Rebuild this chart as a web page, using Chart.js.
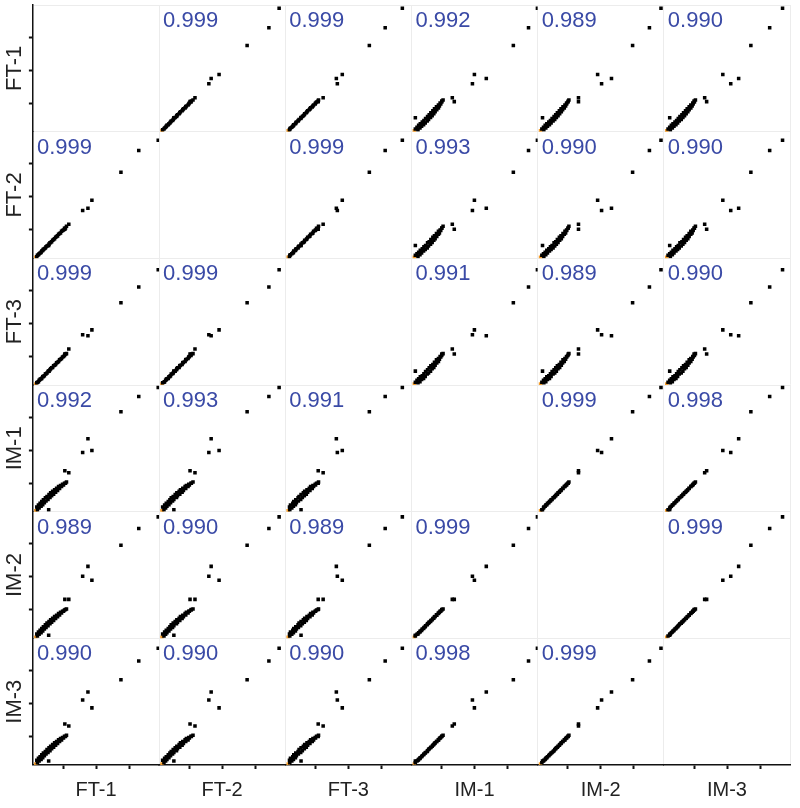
<!DOCTYPE html>
<html>
<head>
<meta charset="utf-8">
<script src="https://cdn.jsdelivr.net/npm/chart.js@4.4.1/dist/chart.umd.min.js"></script>
<style>
  html, body { margin: 0; padding: 0; background: #fff; }
  #wrap { width: 800px; height: 808px; }
</style>
</head>
<body>
<div id="wrap"><canvas id="matrix" width="800" height="808"></canvas></div>
<script>
const samples = ["FT-1", "FT-2", "FT-3", "IM-1", "IM-2", "IM-3"];

// expression per sample, same gene order in every array (dense low cluster, then the high genes)
const ft1 = [0.17,0.2,0.22,0.25,0.27,0.3,0.33,0.35,0.38,0.4,0.43,0.46,0.48,0.51,0.54,0.57,0.6,0.62,0.65,0.68,0.71,0.74,0.77,0.8,0.83,0.86,0.89,0.92,0.95,0.98,1.01,1.04,1.07,1.1,
  3.88,3.29,2.75,1.87,1.75,1.59,1.17,1.05,0.56];
const ft2 = [0.17,0.19,0.23,0.25,0.28,0.3,0.32,0.36,0.38,0.41,0.43,0.45,0.49,0.51,0.53,0.57,0.61,0.62,0.64,0.69,0.71,0.73,0.78,0.8,0.82,0.87,0.89,0.91,0.96,0.98,1.0,1.05,1.06,1.11,
  3.72,3.41,2.75,1.9,1.66,1.59,1.17,1.02,0.53];
const ft3 = [0.17,0.21,0.22,0.24,0.28,0.31,0.33,0.34,0.39,0.4,0.42,0.47,0.48,0.5,0.55,0.56,0.6,0.63,0.66,0.67,0.72,0.74,0.76,0.81,0.83,0.85,0.9,0.92,0.94,0.99,1.0,1.03,1.08,1.09,
  3.63,3.11,2.63,1.81,1.63,1.66,1.23,1.08,0.56];
const im1 = [0.17,0.28,0.2,0.34,0.25,0.39,0.3,0.45,0.35,0.5,0.41,0.56,0.46,0.6,0.51,0.66,0.57,0.71,0.62,0.76,0.67,0.8,0.73,0.85,0.78,0.9,0.84,0.93,0.9,0.97,0.95,1.0,1.0,1.04,
  3.9,3.63,3.17,1.99,2.35,1.93,1.32,1.38,0.2];
const im2 = [0.17,0.27,0.21,0.33,0.26,0.38,0.31,0.44,0.36,0.49,0.42,0.55,0.47,0.6,0.52,0.65,0.58,0.7,0.63,0.75,0.68,0.8,0.74,0.84,0.79,0.89,0.85,0.93,0.91,0.96,0.96,1.0,1.01,1.03,
  3.82,3.47,2.96,1.9,2.32,2.02,1.32,1.32,0.23];
const im3 = [0.17,0.28,0.21,0.34,0.26,0.39,0.31,0.45,0.36,0.5,0.42,0.55,0.47,0.61,0.52,0.66,0.57,0.71,0.63,0.76,0.68,0.81,0.74,0.85,0.79,0.9,0.85,0.94,0.9,0.97,0.96,1.01,1.0,1.04,
  3.68,3.29,2.72,1.87,2.35,2.11,1.32,1.38,0.26];
const expr = [ft1, ft2, ft3, im1, im2, im3];

// genes with no signal, drawn orange
const zeroGenes = [0];

// pearson r, row = y sample, col = x sample
const corrFT1 = [null, 0.999, 0.999, 0.992, 0.989, 0.990];
const corrFT2 = [0.999, null, 0.999, 0.993, 0.990, 0.990];
const corrFT3 = [0.999, 0.999, null, 0.991, 0.989, 0.990];
const corrIM1 = [0.992, 0.993, 0.991, null, 0.999, 0.998];
const corrIM2 = [0.989, 0.990, 0.989, 0.999, null, 0.999];
const corrIM3 = [0.990, 0.990, 0.990, 0.998, 0.999, null];
const corr = [corrFT1, corrFT2, corrFT3, corrIM1, corrIM2, corrIM3];

const tickValues = [1, 2, 3];
const xRange = [0.082, 3.906];
const yRange = [0.139, 3.978];

const FONT = "'Liberation Sans', Arial, sans-serif";
const AXIS = "#111";
const FRAME = "#ececec";
const isEdge = (c, max) => c.tick && c.tick.value === max;

function axis(pos, stack, range, label) {
  const bottom = pos === "bottom";
  return {
    type: "linear",
    position: pos,
    stack: stack,
    stackWeight: 1,
    min: range[0],
    max: range[1],
    afterBuildTicks: s => { s.ticks = tickValues.concat([range[1]]).map(v => ({ value: v })); },
    ticks: { display: false },
    grid: {
      drawOnChartArea: true,
      color: c => isEdge(c, range[1]) ? FRAME : "rgba(0,0,0,0)",
      tickColor: c => isEdge(c, range[1]) ? "rgba(0,0,0,0)" : AXIS,
      tickLength: 4,
      tickWidth: 2,
      lineWidth: 1
    },
    border: { display: true, color: AXIS, width: 1.5 },
    title: {
      display: true,
      text: label,
      color: "#222",
      font: { family: FONT, size: bottom ? 20 : 22 },
      padding: bottom ? { top: 9, bottom: 6 } : { top: 2, bottom: 0.5 }
    }
  };
}

const scales = {};
samples.forEach((s, j) => { scales["x" + j] = axis("bottom", "cols", xRange, s); });
// left boxes are stacked in reverse order, so the last one lands on top
for (let i = samples.length - 1; i >= 0; i--) {
  scales["y" + i] = axis("left", "rows", yRange, samples[i]);
}

const datasets = [];
for (let i = 0; i < samples.length; i++) {
  for (let j = 0; j < samples.length; j++) {
    if (i === j) continue;
    datasets.push({
      label: samples[j] + " vs " + samples[i],
      xAxisID: "x" + j,
      yAxisID: "y" + i,
      data: expr[j].map((v, k) => ({ x: v, y: expr[i][k] })),
      pointStyle: "rect",
      pointRadius: 2.5,
      pointBorderWidth: 0,
      pointBackgroundColor: c => zeroGenes.includes(c.dataIndex) ? "#f39c2a" : "#000"
    });
  }
}

const corrLabels = {
  id: "corrLabels",
  afterDatasetsDraw(chart) {
    const ctx = chart.ctx;
    ctx.save();
    ctx.fillStyle = "#3a4aa6";
    ctx.font = "22px " + FONT;
    ctx.textBaseline = "alphabetic";
    corr.forEach((row, i) => row.forEach((r, j) => {
      if (r === null) return;
      const xs = chart.scales["x" + j], ys = chart.scales["y" + i];
      ctx.fillText(r.toFixed(3), xs.left + 4, ys.top + 22);
    }));
    ctx.restore();
  }
};

new Chart(document.getElementById("matrix"), {
  type: "scatter",
  data: { datasets },
  options: {
    responsive: false,
    animation: false,
    events: [],
    layout: { padding: { top: 5, right: 10, bottom: 0, left: 0 } },
    plugins: { legend: { display: false }, tooltip: { enabled: false } },
    scales
  },
  plugins: [corrLabels]
});
</script>
</body>
</html>
